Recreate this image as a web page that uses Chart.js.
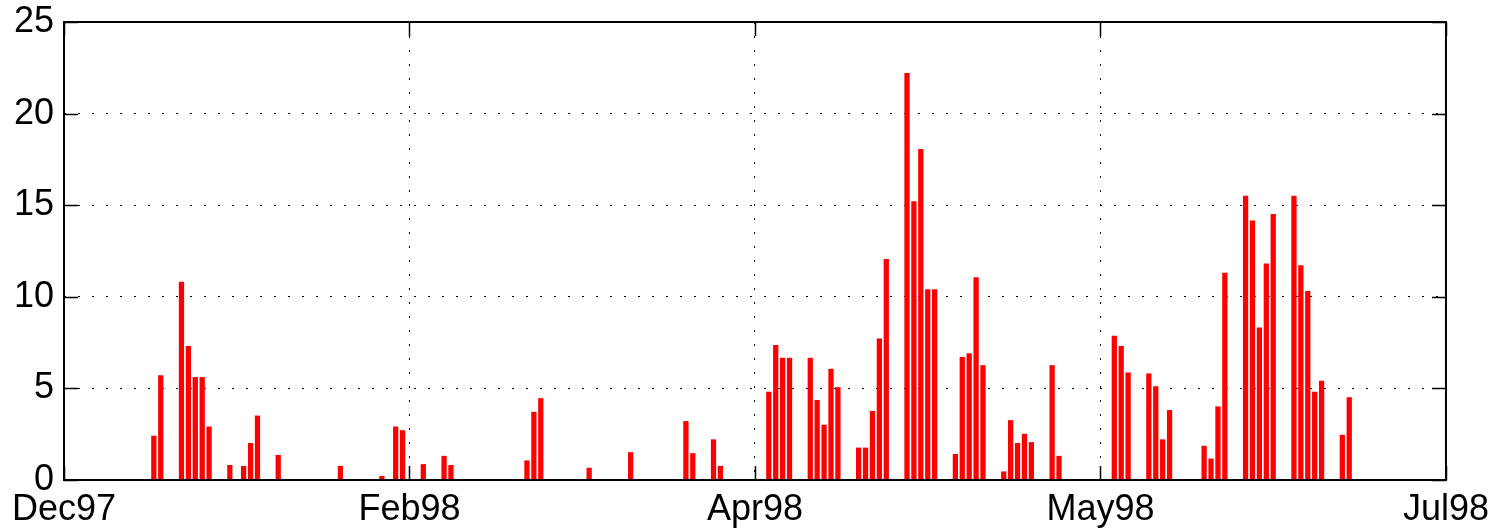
<!DOCTYPE html>
<html>
<head>
<meta charset="utf-8">
<script src="https://cdn.jsdelivr.net/npm/chart.js@4"></script>
<style>
  html, body { margin: 0; padding: 0; background: #fff; }
  #wrap { width: 1497px; height: 531px; }
</style>
</head>
<body>
<div id="wrap"><canvas id="chartCanvas"></canvas></div>
<script>
// day offsets from the first tick (Dec97) and the bar heights
const days = [13, 14, 17, 18, 19, 20, 21, 24, 26, 27, 28, 31,
  40, 46, 48, 49, 52, 55, 56, 67, 68, 69,
  76, 82, 90, 91, 94, 95,
  102, 103, 104, 105, 108, 109, 110, 111, 112,
  115, 116, 117, 118, 119, 122, 123, 124, 125, 126,
  129, 130, 131, 132, 133, 136, 137, 138, 139, 140, 143, 144,
  152, 153, 154, 157, 158, 159, 160,
  165, 166, 167, 168, 171, 172, 173, 174, 175,
  178, 179, 180, 181, 182, 185, 186];
const values = [2.4, 5.7, 10.8, 7.3, 5.6, 5.6, 2.9, 0.8, 0.75, 2.0, 3.5, 1.35,
  0.75, 0.2, 2.9, 2.7, 0.85, 1.3, 0.8, 1.05, 3.7, 4.45,
  0.65, 1.5, 3.2, 1.45, 2.2, 0.75,
  4.8, 7.35, 6.65, 6.65, 6.65, 4.35, 3.0, 6.05, 5.05,
  1.75, 1.75, 3.75, 7.7, 12.05, 22.2, 15.2, 18.05, 10.4, 10.4,
  1.4, 6.7, 6.9, 11.05, 6.25, 0.45, 3.25, 2.0, 2.5, 2.05, 6.25, 1.3,
  7.85, 7.3, 5.85, 5.8, 5.1, 2.2, 3.8,
  1.85, 1.15, 4.0, 11.3, 15.5, 14.15, 8.3, 11.8, 14.5,
  15.5, 11.7, 10.3, 4.8, 5.4, 2.45, 4.5];

const xTicks = [0, 50, 100, 150, 200];
const xLabels = ['Dec97', 'Feb98', 'Apr98', 'May98', 'Jul98'];
const yTicks = [0, 5, 10, 15, 20, 25];

const FONT = { family: "'Liberation Sans', Arial, Helvetica, sans-serif", size: 36 };

// hide grid lines that sit on the box edges
const edgeless = (ctx) => (ctx.index === 0 || ctx.index === ctx.chart.scales[ctx.scale.id].ticks.length - 1)
  ? 'rgba(0,0,0,0)' : '#000';

// matlab style box with inward tick marks
const boxPlugin = {
  id: 'matlabBox',
  afterDraw(chart) {
    const { ctx, chartArea: a, scales: { x, y } } = chart;
    const len = 14;
    ctx.save();
    ctx.strokeStyle = '#000';
    ctx.lineWidth = 1.5;
    ctx.beginPath();
    x.ticks.forEach(t => {
      const px = Math.round(x.getPixelForValue(t.value)) + 0.5;
      ctx.moveTo(px, a.bottom); ctx.lineTo(px, a.bottom - len);
      ctx.moveTo(px, a.top); ctx.lineTo(px, a.top + len);
    });
    y.ticks.forEach(t => {
      const py = Math.round(y.getPixelForValue(t.value)) + 0.5;
      ctx.moveTo(a.left, py); ctx.lineTo(a.left + len, py);
      ctx.moveTo(a.right, py); ctx.lineTo(a.right - len, py);
    });
    ctx.stroke();
    ctx.lineWidth = 2;
    ctx.strokeRect(a.left, a.top, a.width, a.height);
    ctx.restore();
  }
};

new Chart(document.getElementById('chartCanvas'), {
  type: 'bar',
  data: {
    datasets: [{
      data: days.map((d, i) => ({ x: d, y: values[i] })),
      backgroundColor: '#ff0000',
      borderWidth: 0,
      barThickness: 4.6
    }]
  },
  options: {
    responsive: true,
    maintainAspectRatio: false,
    animation: false,
    layout: { padding: { left: 0, right: 49, top: 22, bottom: 0 } },
    plugins: { legend: { display: false }, tooltip: { enabled: false } },
    scales: {
      x: {
        type: 'linear',
        min: 0,
        max: 200,
        offset: false,
        afterFit: (s) => { s.height = 51; },
        afterBuildTicks: (s) => { s.ticks = xTicks.map(v => ({ value: v })); },
        grid: { offset: false, drawTicks: false, color: edgeless, lineWidth: 1 },
        border: { display: false, dash: [2, 12] },
        ticks: {
          autoSkip: false,
          maxRotation: 0,
          padding: 8,
          color: '#000',
          font: FONT,
          callback: (v) => xLabels[xTicks.indexOf(v)]
        }
      },
      y: {
        min: 0,
        max: 25,
        afterFit: (s) => { s.width = 64; s.paddingTop = 0; s.paddingBottom = 0; },
        afterBuildTicks: (s) => { s.ticks = yTicks.map(v => ({ value: v })); },
        grid: { drawTicks: false, color: edgeless, lineWidth: 1 },
        border: { display: false, dash: [2, 12] },
        ticks: { padding: 10, color: '#000', font: FONT }
      }
    }
  },
  plugins: [boxPlugin]
});
</script>
</body>
</html>
